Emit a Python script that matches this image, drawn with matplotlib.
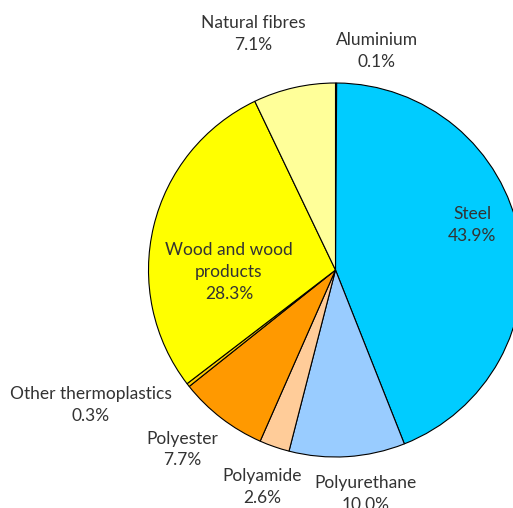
import matplotlib.pyplot as plt

# material shares, clockwise from 12 o'clock
materials = ['Aluminium', 'Steel', 'Polyurethane', 'Polyamide', 'Polyester',
             'Other thermoplastics', 'Wood and wood\nproducts', 'Natural fibres']
shares = [0.1, 43.9, 10.0, 2.6, 7.7, 0.3, 28.3, 7.1]
colours = ['#3366CC', '#00CCFF', '#99CCFF', '#FFCC99', '#FF9900',
           '#FFCC00', '#FFFF00', '#FFFF99']

# label anchor points (pie radius = 1, centre at 0,0)
label_pos = [(0.22, 1.17), (0.73, 0.24), (0.16, -1.20), (-0.39, -1.16),
             (-0.82, -0.96), (-1.31, -0.72), (-0.57, -0.01), (-0.44, 1.26)]

fig = plt.figure(figsize=(5.13, 5.08), dpi=100)
ax = fig.add_axes([0, 0, 1, 1])
ax.pie(shares, colors=colours, startangle=90, counterclock=False, radius=1,
       wedgeprops=dict(edgecolor='black', linewidth=0.8))

for name, val, (x, y) in zip(materials, shares, label_pos):
    ax.text(x, y, f'{name}\n{val:.1f}%', ha='center', va='center',
            fontsize=12.5, family='Lato', fontweight='normal',
            linespacing=1.45, color='#333333')

r = 187.0
ax.set_xlim(-335.5 / r, (513 - 335.5) / r)
ax.set_ylim(-(508 - 270) / r, 270 / r)
ax.set_aspect('equal')
ax.axis('off')

fig.savefig('out.png', dpi=100)
